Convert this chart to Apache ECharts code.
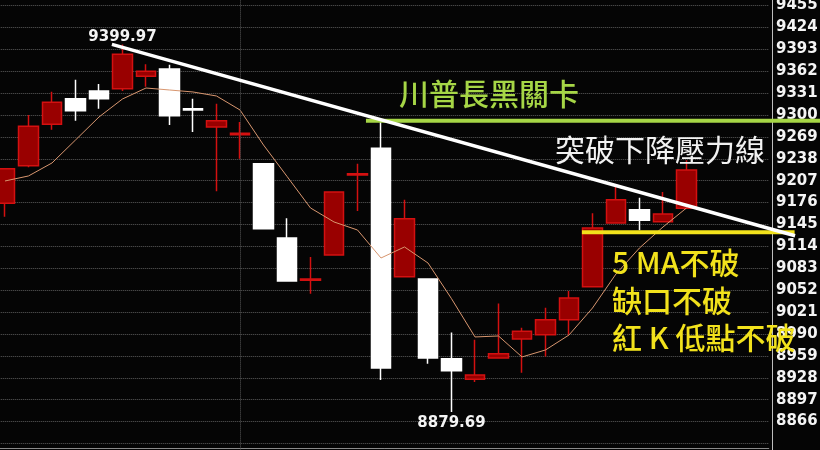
<!DOCTYPE html>
<html><head><meta charset="utf-8">
<script src="https://cdn.jsdelivr.net/npm/echarts@6/dist/echarts.min.js"></script>
<style>html,body{margin:0;padding:0;background:#050505;}#c{width:820px;height:450px;}</style>
</head><body><div id="c"></div>
<script>
// 30 trading days plus 3 empty slots on the right
const categories = ['D01','D02','D03','D04','D05','D06','D07','D08','D09','D10',
  'D11','D12','D13','D14','D15','D16','D17','D18','D19','D20',
  'D21','D22','D23','D24','D25','D26','D27','D28','D29','D30',
  'D31','D32','D33'];
// [open, close, low, high]
const candles = [
  [9175, 9224, 9156, 9224],
  [9228, 9284, 9226, 9300],
  [9287, 9318, 9279, 9333],
  [9323, 9306, 9292, 9350],
  [9334, 9323, 9309, 9344],
  [9337, 9386, 9334, 9399.97],
  [9355, 9362, 9340, 9372],
  [9365, 9299, 9286, 9371],
  [9309, 9307, 9276, 9323],
  [9283, 9292, 9192, 9316],
  [9272, 9274, 9238, 9290],
  [9231, 9139, 9139, 9231],
  [9126, 9065, 9065, 9154],
  [9066, 9068, 9047, 9099],
  [9102, 9191, 9102, 9191],
  [9215, 9217, 9164, 9231],
  [9253, 8942, 8925, 9292],
  [9071, 9153, 9071, 9180],
  [9068, 8956, 8948, 9068],
  [8955, 8938, 8879.69, 8992],
  [8926, 8932, 8922, 8982],
  [8956, 8962, 8956, 9033],
  [8983, 8994, 8935, 8999],
  [8989, 9010, 8958, 9027],
  [9010, 9041, 8989, 9051],
  [9057, 9140, 9057, 9161],
  [9147, 9180, 9147, 9198],
  [9166, 9151, 9137, 9183],
  [9149, 9160, 9149, 9191],
  [9168, 9222, 9168, 9236]
];
const ma5 = [9206.6, 9213.7, 9232.1, 9264.6, 9297.2, 9322.7, 9338.2, 9335.4, 9332.6, 9326.9,
  9307.1, 9257.5, 9213.1, 9168.4, 9148.6, 9137.2, 9097.6, 9113.2, 9090.5, 9040,
  8985.8, 8987.2, 8957.5, 8967.4, 8988.6, 9026.8, 9075, 9111.8, 9141.5, 9168.4];
const yMin = 8804, yMax = 9486, yStep = 31;
const labelFloor = 8866, labelCeil = 9455;   // tick labels shown
const resistanceLevel = 9292;              // 川普長黑關卡
const resistanceSpan = [15.36, 34.7];      // category-index span
const supportLevel = 9134;                 // yellow support
const supportSpan = [24.55, 33.6];
const trendLine = [[4.55, 9399.97], [33.62, 9129]];  // 下降壓力線 [index, value]
const dividerCategory = 'D11';

const chart = echarts.init(document.getElementById('c'), null, {renderer: 'canvas'});
chart.setOption({
  backgroundColor: '#050505',
  animation: false,
  grid: {left: -6.75, right: 51.25, top: -16.4, bottom: -15.4, containLabel: false, outerBoundsMode: 'none'},
  xAxis: {
    type: 'category', data: categories, boundaryGap: true, offset: -17.4,
    axisLine: {show: true, lineStyle: {color: '#8a8a8a', width: 1}},
    axisTick: {show: false}, axisLabel: {show: false}, splitLine: {show: false}
  },
  yAxis: {
    type: 'value', position: 'right', offset: 3.25, scale: true,
    min: yMin, max: yMax, interval: yStep,
    axisLine: {show: true, lineStyle: {color: '#bdbdbd', width: 1}},
    axisTick: {show: false},
    axisLabel: {show: true, margin: 4,
      formatter: v => (v >= labelFloor && v <= labelCeil) ? String(v) : '',
      color: '#f4f4f4', fontFamily: 'DejaVu Sans', fontWeight: 'bold', fontSize: 15},
    splitLine: {show: true, lineStyle: {color: '#5c5c5c', type: 'dotted', width: 1}}
  },
  series: [
    {
      type: 'candlestick', data: candles, barWidth: 20, z: 2,
      itemStyle: {color: '#990000', borderColor: '#d41010', color0: '#ffffff', borderColor0: '#ffffff', borderWidth: 1.5},
      markLine: {
        silent: true, symbol: 'none', animation: false,
        label: {show: false},
        lineStyle: {color: '#5a5a5a', type: 'dotted', width: 1},
        data: [{xAxis: dividerCategory}]
      },
      markPoint: {
        silent: true, animation: false,
        symbol: 'circle', symbolSize: 1,
        itemStyle: {color: 'rgba(0,0,0,0)'},
        data: [
          {type: 'max', valueDim: 'highest', label: {position: 'top', distance: 2, offset: [0, 3]}},
          {type: 'min', valueDim: 'lowest', label: {position: 'bottom', distance: 2, offset: [0, 1]}}
        ],
        label: {show: true, formatter: p => String(p.value), color: '#f4f4f4',
          fontFamily: 'DejaVu Sans', fontWeight: 'bold', fontSize: 15, lineHeight: 15}
      }
    },
    {
      type: 'line', data: ma5, symbol: 'none', smooth: false, z: 3,
      lineStyle: {color: '#d8966f', width: 1}
    }
  ]
});

function px(i) {
  const a = chart.convertToPixel({gridIndex: 0}, [0, 9000])[0];
  const b = chart.convertToPixel({gridIndex: 0}, [1, 9000])[0];
  return a + i * (b - a);
}
function py(v) { return chart.convertToPixel({yAxisIndex: 0}, v); }

const cjk = '"Noto Sans CJK TC", "Noto Sans CJK SC", sans-serif';
chart.setOption({
  graphic: [
    {type: 'line', z: 50, shape: {x1: px(resistanceSpan[0]), y1: py(resistanceLevel), x2: px(resistanceSpan[1]), y2: py(resistanceLevel)},
      style: {stroke: '#a6d646', lineWidth: 4}},
    {type: 'line', z: 50, shape: {x1: px(supportSpan[0]), y1: py(supportLevel), x2: px(supportSpan[1]), y2: py(supportLevel)},
      style: {stroke: '#f2e21c', lineWidth: 4}},
    {type: 'line', z: 51, shape: {x1: px(trendLine[0][0]), y1: py(trendLine[0][1]), x2: px(trendLine[1][0]), y2: py(trendLine[1][1])},
      style: {stroke: '#ffffff', lineWidth: 3.5}},
    {type: 'text', z: 60, x: 399, y: 94, style: {text: '川普長黑關卡', fill: '#a6d646', font: '500 30px ' + cjk, verticalAlign: 'middle', align: 'left'}},
    {type: 'text', z: 60, x: 555, y: 150, style: {text: '突破下降壓力線', fill: '#f2f2f2', font: '30px ' + cjk, verticalAlign: 'middle', align: 'left'}},
    {type: 'text', z: 60, x: 612, y: 263, style: {text: '5 MA不破', fill: '#f2e21c', font: '500 30px ' + cjk, verticalAlign: 'middle', align: 'left'}},
    {type: 'text', z: 60, x: 612, y: 301, style: {text: '缺口不破', fill: '#f2e21c', font: '500 30px ' + cjk, verticalAlign: 'middle', align: 'left'}},
    {type: 'text', z: 60, x: 612, y: 338, style: {text: '紅 K 低點不破', fill: '#f2e21c', font: '500 30px ' + cjk, verticalAlign: 'middle', align: 'left'}}
  ]
});
</script></body></html>
